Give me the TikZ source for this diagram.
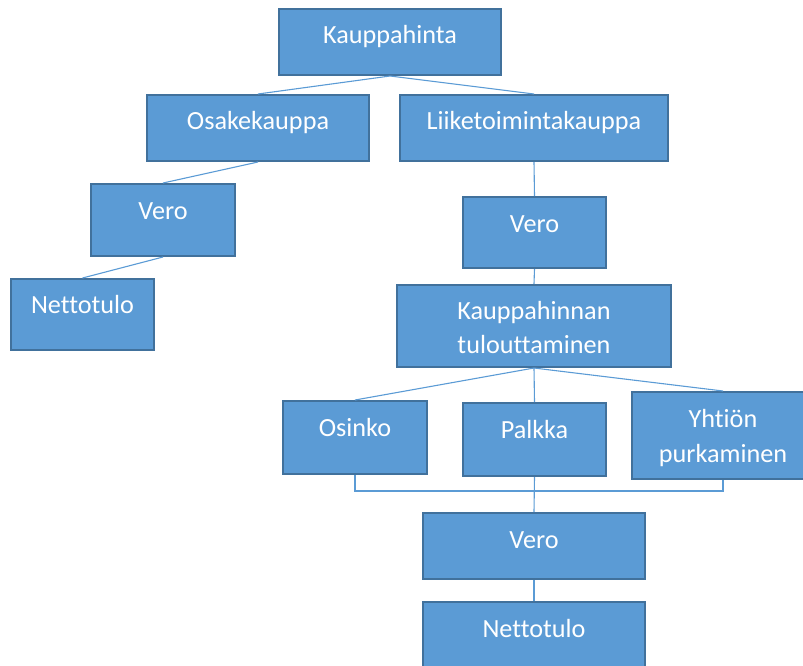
\documentclass[tikz,border=0pt]{standalone}
\usepackage{fontspec}
\setmainfont{Carlito}[Ligatures=NoCommon]
\definecolor{boxfill}{HTML}{5B9BD5}
\definecolor{boxline}{HTML}{41719C}
\definecolor{conn}{HTML}{5B9BD5}
\tikzset{
  bx/.style={draw=boxline, line width=2pt, fill=boxfill, rectangle, inner sep=0pt},
  lbl/.style={text=white, anchor=base, inner sep=0pt, font=\fontsize{26.2}{30}\selectfont},
  cn/.style={draw=conn, line width=1.1pt}
}
\begin{document}
\begin{tikzpicture}[x=1pt,y=-1pt]
\useasboundingbox (0,0) rectangle (803,665);
\clip (0,0) rectangle (803,665);
% boxes
\node[bx, minimum width=222, minimum height=66] (k) at (390,42) {};
\node[bx, minimum width=222, minimum height=66] (osa) at (258,128) {};
\node[bx, minimum width=268, minimum height=66] (lii) at (534,128) {};
\node[bx, minimum width=144, minimum height=72] (v1) at (163,220) {};
\node[bx, minimum width=143, minimum height=71] (n1) at (82.5,314.5) {};
\node[bx, minimum width=143, minimum height=71] (v2) at (534.5,232.5) {};
\node[bx, minimum width=274, minimum height=82] (kt) at (534,326) {};
\node[bx, minimum width=144, minimum height=73] (os) at (355,437.5) {};
\node[bx, minimum width=143, minimum height=73] (pa) at (534.5,439.5) {};
\node[bx, minimum width=182, minimum height=87] (yh) at (723,435.5) {};
\node[bx, minimum width=222, minimum height=66] (v3) at (534,546) {};
\node[bx, minimum width=222, minimum height=66] (n3) at (534,635) {};
% labels
\node[lbl] (tk) at (390,43.5) {Kauppahinta};
\node[lbl] (tosa) at (258,129.5) {Osakekauppa};
\node[lbl] (tlii) at (534,129.5) {Liiketoimintakauppa};
\node[lbl] (tv1) at (163,219) {Vero};
\node[lbl] (tn1) at (82.5,313.5) {Nettotulo};
\node[lbl] (tv2) at (534.5,232) {Vero};
\node[lbl] (tkt1) at (534,319) {Kauppahinnan};
\node[lbl] (tkt2) at (534,353.5) {tulouttaminen};
\node[lbl] (tos) at (355,436) {Osinko};
\node[lbl] (tpa) at (534.5,438) {Palkka};
\node[lbl] (tyh1) at (723,427) {Yhtiön};
\node[lbl] (tyh2) at (723,462) {purkaminen};
\node[lbl] (tv3) at (534,548) {Vero};
\node[lbl] (tn3) at (534,637) {Nettotulo};
% connectors
\draw[cn] (k.south) -- (osa.north);
\draw[cn] (k.south) -- (lii.north);
\draw[cn] (osa.south) -- (v1.north);
\draw[cn] (v1.south) -- (n1.north);
\draw[cn] (lii.south) -- (v2.north);
\draw[cn] (v2.south) -- (kt.north);
\draw[cn] (kt.south) -- (os.north);
\draw[cn] (kt.south) -- (pa.north);
\draw[cn] (kt.south) -- (yh.north);
\draw[cn] (os.south) -- ++(0,16) -| (yh.south);
\draw[cn] (pa.south) -- (v3.north);
\draw[cn] (v3.south) -- (n3.north);
\end{tikzpicture}
\end{document}
